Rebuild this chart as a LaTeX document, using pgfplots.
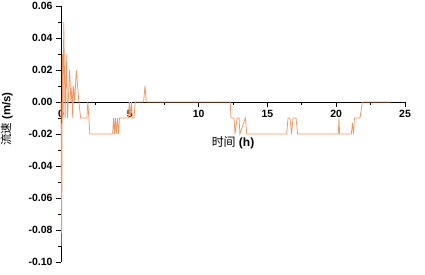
\documentclass[border=0pt]{standalone}
\usepackage{pgfplots}
\pgfplotsset{compat=1.18}
\usepackage{fontspec}
\setmainfont{Liberation Sans}
\newfontfamily\cjk{Noto Sans CJK SC}
\definecolor{lineor}{RGB}{242,150,95}
\begin{document}
\begin{tikzpicture}
\begin{axis}[
  scale only axis, width=344bp, height=256bp,
  xmin=0, xmax=25, ymin=-0.10, ymax=0.06,
  axis x line=middle, axis y line=left,
  axis line style={-, black, line width=0.9pt},
  hide obscured x ticks=false, hide obscured y ticks=false,
  clip=false,
  tick align=outside,
  major tick length=4.5bp, minor tick length=2.5bp,
  tick style={black, line width=0.8pt},
  xtick={0,5,...,25}, minor x tick num=1,
  ytick={-0.10,-0.08,...,0.061}, minor y tick num=1,
  /pgf/number format/assume math mode=true,
  ticklabel style={font=\fontsize{10.5}{12}\selectfont\bfseries},
  yticklabel style={/pgf/number format/fixed, /pgf/number format/fixed zerofill, /pgf/number format/precision=2, xshift=-0.5bp},
  xticklabel style={yshift=0bp},
  scaled y ticks=false,
  xlabel={{\cjk 时间} \textbf{(h)}},
  xlabel style={at={(axis cs:12.5,-0.0255)}, anchor=center, font=\fontsize{12}{14}\selectfont},
  ylabel={{\cjk 流速} \textbf{(m/s)}},
  ylabel style={at={(axis cs:-3.95,-0.0106)}, anchor=center, rotate=0, font=\fontsize{11.5}{13}\selectfont},
]
\addplot[color=lineor, line width=0.75pt] coordinates {
(0,0) (0.05,-0.09) (0.1,0.03) (0.15,-0.01) (0.2,0.05) (0.3,-0.01) (0.38,0.03)
(0.47,-0.01) (0.63,0.02) (0.72,0) (0.8,0.01) (0.85,-0.01) (0.92,0.01) (1.0,0)
(1.11,0.02) (1.3,0) (1.43,-0.01) (1.88,-0.01) (1.95,0) (2.1,-0.02) (3.75,-0.02)
(3.82,-0.01) (3.88,-0.02) (3.95,-0.01) (4.02,-0.02) (4.1,-0.01) (4.18,-0.02)
(4.25,-0.01) (4.9,-0.01) (4.97,0) (5.03,-0.01) (5.12,0) (5.18,-0.01) (5.3,-0.01)
(5.4,0) (6.0,0) (6.1,0.01) (6.2,0) (12.3,0) (12.35,-0.01) (12.57,-0.01)
(12.65,-0.02) (12.8,-0.01) (12.94,-0.01) (13.0,-0.02) (13.4,-0.01) (13.5,-0.02)
(16.4,-0.02) (16.5,-0.01) (16.64,-0.01) (16.76,-0.02) (16.86,-0.01) (17.08,-0.01)
(17.2,-0.02) (20.15,-0.02) (20.2,-0.01) (20.25,-0.02) (21.1,-0.02) (21.18,-0.013)
(21.25,-0.02) (21.33,-0.01) (21.73,-0.01) (21.9,0) (24,0)
};
\coordinate (BBA) at (axis cs:-4.433,-0.1075);
\coordinate (BBB) at (axis cs:26.453,0.06375);
\end{axis}
\pgfresetboundingbox
\path[use as bounding box] (BBA) rectangle (BBB);
\end{tikzpicture}
\end{document}
